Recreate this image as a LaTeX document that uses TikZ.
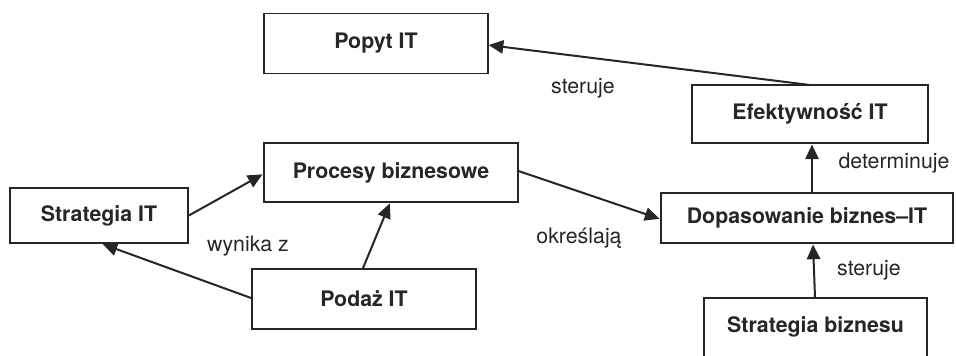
\documentclass[tikz,border=0pt]{standalone}
\usepackage{fontspec}
\setmainfont{TeX Gyre Heros}
\usetikzlibrary{arrows.meta}
\begin{document}
\begin{tikzpicture}[x=0.75pt,y=-0.75pt,
  font=\fontsize{16pt}{19pt}\selectfont,
  box/.style={draw=black!85, line width=1.3pt, font=\fontsize{16pt}{19pt}\selectfont\bfseries, text=black!85, inner sep=0pt},
  link/.style={draw=black!85, line width=1.5pt, -{Triangle[length=11pt,width=10pt]}, shorten >=0.5pt},
  lbl/.style={text=black!85, inner sep=0pt}]
\useasboundingbox (0,0) rectangle (956,355);
\begin{scope}
\clip (0,0) rectangle (956,355);
% boxes (x from left edge, y from top, pixel units)
\node[box, minimum width=224*0.75pt, minimum height=60*0.75pt] (popyt) at (376,43.5) {Popyt IT};
\node[box, minimum width=236*0.75pt, minimum height=58*0.75pt] (efekt) at (810,114) {Efektywność IT};
\node[box, minimum width=254*0.75pt, minimum height=59*0.75pt] (proc) at (391,172.5) {Procesy biznesowe};
\node[box, minimum width=178*0.75pt, minimum height=55*0.75pt] (stratit) at (99,215.5) {Strategia IT};
\node[box, minimum width=292*0.75pt, minimum height=50*0.75pt] (dopas) at (807,218) {Dopasowanie biznes\textendash IT};
\node[box, minimum width=224*0.75pt, minimum height=60*0.75pt] (podaz) at (364,299) {Podaż IT};
\node[box, minimum width=223*0.75pt, minimum height=70*0.75pt, text depth=0pt] (stratb) at (815.5,333) {};
\node[font=\fontsize{16pt}{19pt}\selectfont\bfseries, text=black!85, inner sep=0pt] (stratbtxt) at (815.5,327) {Strategia biznesu};
% connectors
\coordinate (efektTop) at (810,85);
\coordinate (popytR) at (488,45);
\draw[link] (efektTop) -- (popytR);
\draw[link] (stratit.east) -- ([yshift=-1.5*0.75pt]proc.west);
\draw[link] ([xshift=-1*0.75pt]podaz.north) -- ([xshift=-1*0.75pt]proc.south);
\draw[link] ([yshift=1*0.75pt]podaz.west) -- ([xshift=3*0.75pt]stratit.south);
\draw[link] ([xshift=126*0.75pt,yshift=2*0.75pt]proc.center) -- ([yshift=-1*0.75pt]dopas.west);
\draw[link] ([xshift=5*0.75pt]dopas.north) -- ([xshift=2*0.75pt]efekt.south);
\draw[link] ([xshift=-0.5*0.75pt]stratb.north) -- ([xshift=6*0.75pt]dopas.south);
% labels
\node[lbl] (l1) at (583,88) {steruje};
\node[lbl] (l2) at (894,163) {determinuje};
\node[lbl] (l3) at (869,270) {steruje};
\node[lbl] (l4) at (248,246) {wynika z};
\node[lbl] (l5) at (579,238) {określają};
\end{scope}
\end{tikzpicture}
\end{document}
